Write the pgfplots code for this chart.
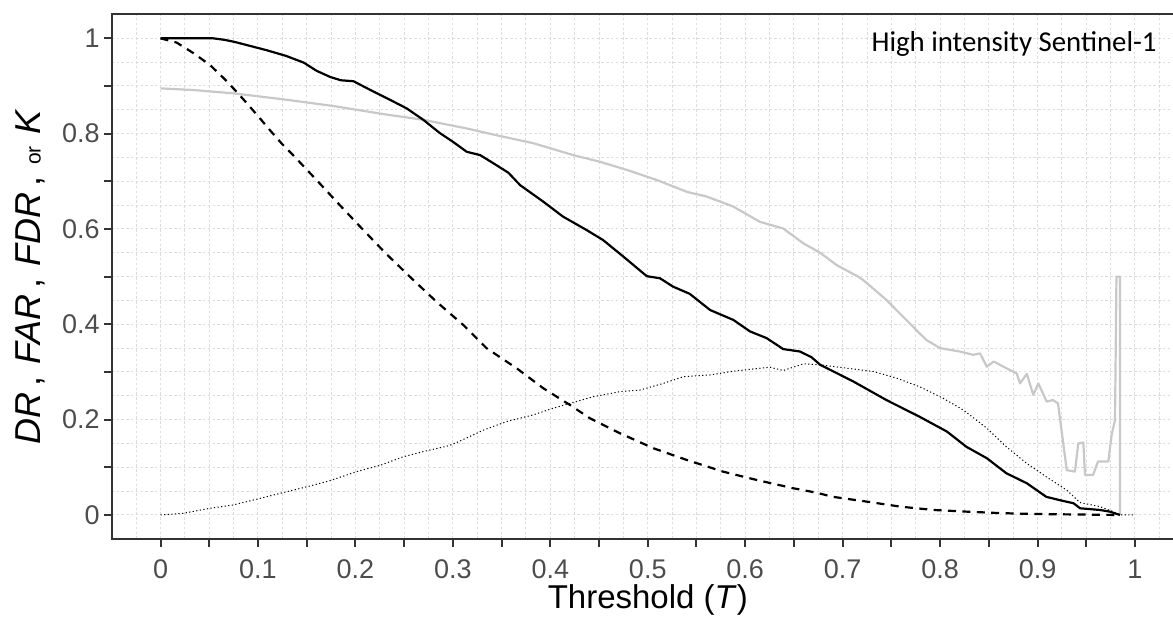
\documentclass[border=0pt]{standalone}
\usepackage{fontspec}
\setmainfont{Liberation Sans}
\newfontfamily\calibri{Carlito}
\usepackage{pgfplots}
\pgfplotsset{compat=1.18}
\definecolor{grey20}{HTML}{333333}
\definecolor{grey30}{HTML}{4D4D4D}
\definecolor{gridc}{HTML}{DCDCDC}
\definecolor{fdrc}{HTML}{C8C8C8}

\pgfplotstableread{
T v
0 1
0.02 1
0.054 1.0
0.065 0.997
0.075 0.993
0.092 0.984
0.109 0.975
0.129 0.963
0.147 0.949
0.160 0.932
0.174 0.919
0.185 0.912
0.198 0.910
0.215 0.892
0.2355 0.871
0.2526 0.853
0.2697 0.829
0.2868 0.801
0.300 0.783
0.3142 0.762
0.328 0.755
0.3415 0.738
0.357 0.718
0.369 0.692
0.393 0.657
0.413 0.626
0.437 0.598
0.454 0.577
0.475 0.542
0.499 0.501
0.5126 0.4965
0.526 0.479
0.543 0.464
0.564 0.430
0.588 0.409
0.605 0.385
0.622 0.371
0.639 0.348
0.656 0.343
0.668 0.331
0.677 0.315
0.711 0.280
0.745 0.241
0.779 0.206
0.807 0.175
0.827 0.143
0.848 0.119
0.868 0.0875
0.889 0.0665
0.909 0.038
0.925 0.030
0.937 0.0245
0.9436 0.014
0.964 0.0105
0.974 0.007
0.9846 0
}\dr

\pgfplotstableread{
T v
0 1
0.0166 0.991
0.0337 0.969
0.0508 0.944
0.066 0.914
0.078 0.888
0.0885 0.864
0.1004 0.836
0.112 0.808
0.124 0.780
0.136 0.755
0.160 0.703
0.184 0.650
0.208 0.598
0.232 0.547
0.2594 0.493
0.2834 0.447
0.3107 0.3986
0.3347 0.3497
0.3655 0.3077
0.3928 0.2658
0.4202 0.2307
0.4407 0.2028
0.4715 0.1714
0.5057 0.140
0.54 0.1154
0.5775 0.0908
0.6118 0.0734
0.6494 0.056
0.673 0.0468
0.690 0.038
0.7247 0.028
0.759 0.0175
0.793 0.0105
0.827 0.007
0.86 0.004
0.896 0.002
0.94 0.001
0.98 0
}\far

\pgfplotstableread{
T v
0 0
0.0234 0.0035
0.0508 0.014
0.0747 0.021
0.0987 0.033
0.126 0.047
0.150 0.059
0.174 0.072
0.2013 0.091
0.2252 0.104
0.249 0.122
0.2697 0.133
0.2953 0.145
0.304 0.152
0.3313 0.178
0.3553 0.196
0.3825 0.21
0.403 0.224
0.4202 0.234
0.444 0.248
0.4715 0.2587
0.492 0.262
0.516 0.276
0.5365 0.290
0.564 0.2937
0.5844 0.3006
0.605 0.3056
0.6254 0.31
0.639 0.303
0.6596 0.317
0.677 0.315
0.704 0.308
0.7315 0.301
0.7555 0.287
0.779 0.269
0.803 0.245
0.824 0.220
0.848 0.182
0.868 0.143
0.889 0.108
0.909 0.080
0.930 0.052
0.9436 0.026
0.964 0.0175
0.9777 0.007
0.9846 0
1 0
}\kap

\pgfplotstableread{
T v
0 0.895
0.0337 0.8915
0.0747 0.8846
0.126 0.872
0.1773 0.858
0.2286 0.841
0.2697 0.829
0.314 0.811
0.3484 0.795
0.3825 0.78
0.4236 0.755
0.451 0.741
0.4784 0.724
0.509 0.703
0.540 0.678
0.5605 0.668
0.5878 0.647
0.615 0.615
0.639 0.601
0.6596 0.570
0.677 0.550
0.694 0.524
0.716 0.500
0.721 0.493
0.745 0.451
0.762 0.416
0.779 0.381
0.786 0.367
0.800 0.350
0.820 0.343
0.834 0.336
0.841 0.339
0.848 0.311
0.855 0.322
0.865 0.311
0.8786 0.297
0.882 0.276
0.889 0.296
0.8956 0.252
0.9008 0.276
0.9094 0.238
0.916 0.241
0.921 0.234
0.930 0.094
0.9384 0.091
0.9418 0.150
0.947 0.152
0.9487 0.084
0.957 0.084
0.962 0.112
0.9726 0.112
0.976 0.168
0.9795 0.199
0.981 0.500
0.9846 0.500
0.9846 0
}\fdr

\begin{document}
\begin{tikzpicture}
\begin{axis}[
  scale only axis,
  width=535.95pt, height=262.15pt,
  xmin=-0.05, xmax=1.05, ymin=-0.05, ymax=1.05,
  axis line style={draw=grey20, line width=1pt},
  tick style={draw=grey20, line width=1pt},
  tick align=outside,
  major tick length=4pt,
  minor tick length=0pt,
  xtick pos=left, ytick pos=left,
  xtick={0,0.05,0.1,0.15,0.2,0.25,0.3,0.35,0.4,0.45,0.5,0.55,0.6,0.65,0.7,0.75,0.8,0.85,0.9,0.95,1},
  xticklabels={0,,0.1,,0.2,,0.3,,0.4,,0.5,,0.6,,0.7,,0.8,,0.9,,1},
  ytick={0,0.1,0.2,0.3,0.4,0.5,0.6,0.7,0.8,0.9,1},
  yticklabels={0,,0.2,,0.4,,0.6,,0.8,,1},
  minor xtick={-0.025,0.025,0.075,0.125,0.175,0.225,0.275,0.325,0.375,0.425,0.475,0.525,0.575,0.625,0.675,0.725,0.775,0.825,0.875,0.925,0.975,1.025},
  minor ytick={0.05,0.15,0.25,0.35,0.45,0.55,0.65,0.75,0.85,0.95},
  grid=both,
  major grid style={draw=gridc, line width=0.5pt, dash pattern=on 1.2pt off 1.2pt},
  minor grid style={draw=gridc, line width=0.5pt, dash pattern=on 1.2pt off 1.2pt},
  ticklabel style={font=\fontsize{13.5}{16}\selectfont, text=grey30},
  xticklabel style={inner sep=0pt, yshift=-6.2pt},
  yticklabel style={inner sep=0pt, xshift=-1.9pt},
  xlabel={Threshold (\textit{T})},
  ylabel={\textit{DR}\hspace{3pt},\hspace{6pt}\textit{FAR}\hspace{3pt},\hspace{6pt}\textit{FDR}\hspace{3pt},\hspace{6pt}{\fontsize{10.5}{12}\selectfont or}\hspace{6pt}\textit{K}},
  label style={font=\fontsize{16.5}{20}\selectfont, text=black},
  xlabel style={at={(axis description cs:0.5,-0.132)}, anchor=base},
  ylabel style={font=\fontsize{18}{21}\selectfont, at={(axis description cs:-0.0665,0.5)}, anchor=base},
]
\addplot[fdrc, line width=1.1pt, line join=round] table[x=T, y=v] {\fdr};
\addplot[black, line width=0.5pt, dash pattern=on 0.6pt off 1.2pt] table[x=T, y=v] {\kap};
\addplot[black, line width=1.1pt, dash pattern=on 4pt off 3.2pt] table[x=T, y=v] {\far};
\addplot[black, line width=1.1pt, line join=round] table[x=T, y=v] {\dr};
\node[anchor=base east, inner sep=0pt, font=\calibri\fontsize{14.4}{17}\selectfont] at (axis cs:1.0226,0.972) {High intensity Sentinel-1};
\end{axis}
\pgfresetboundingbox
\path[use as bounding box] (-55.9pt,-40.1pt) rectangle (530.6pt,269.4pt);
\end{tikzpicture}
\end{document}
